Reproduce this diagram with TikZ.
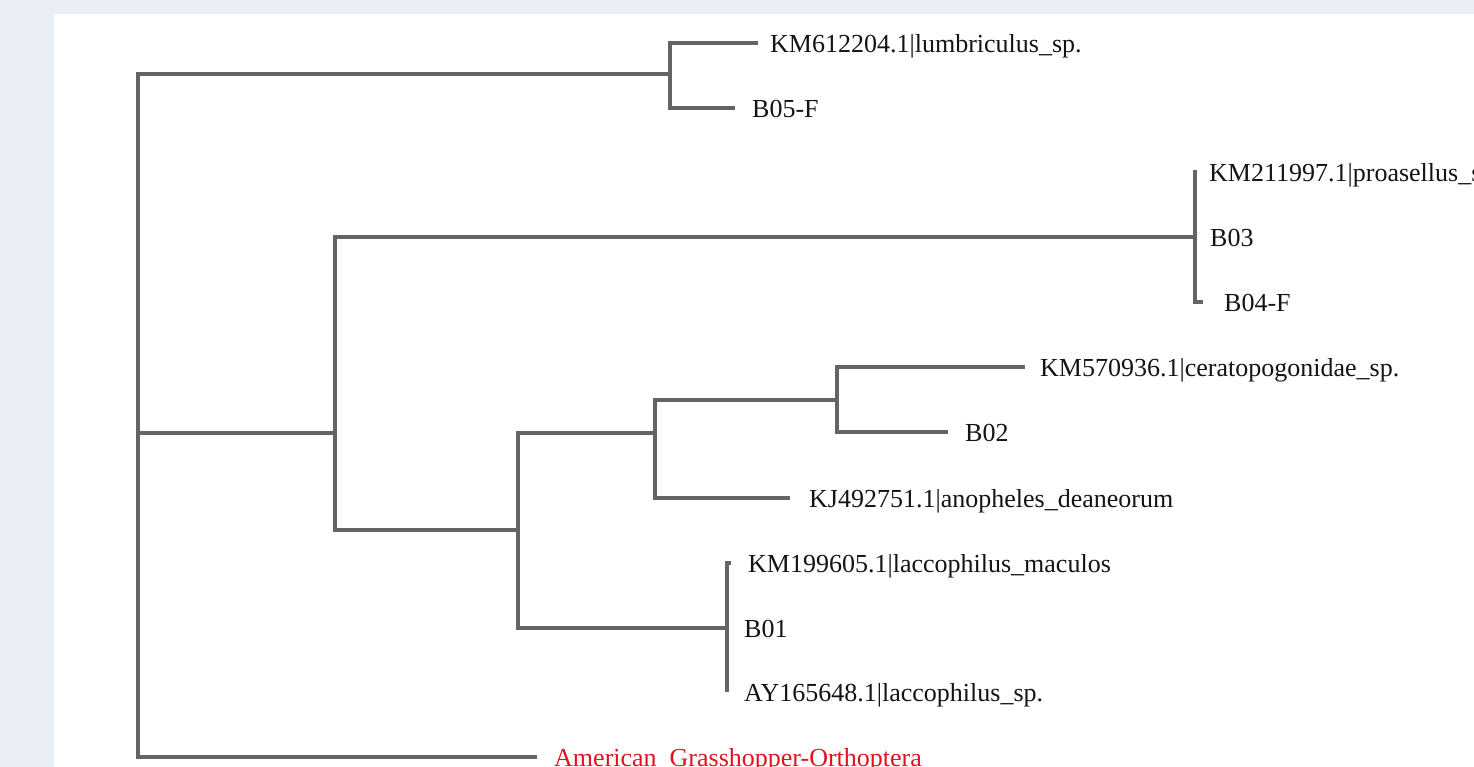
\documentclass[tikz,border=0pt]{standalone}
\usepackage{fontspec}
\setmainfont{Liberation Serif}
\usetikzlibrary{positioning}
\definecolor{pagebg}{HTML}{EBEEF6}
\definecolor{branchgray}{HTML}{646464}
\definecolor{outred}{HTML}{E0141E}
\tikzset{
  branch/.style={draw=branchgray,line width=4pt},
  leaf/.style={inner sep=0pt,text height=23pt,text depth=4pt,text=black!92,
    font=\fontsize{26}{26}\selectfont},
  outgroup/.style={leaf,text=outred}
}
\begin{document}
\begin{tikzpicture}[x=1pt,y=-1pt]
        \fill[pagebg] (0,0) rectangle (1474,767);
        \fill[white] (54,14) rectangle (1474,767);
        \clip (0,0) rectangle (1474,767);
        \coordinate (n0) at (138,433);
        \coordinate (n1) at (670,74);
        \coordinate (n2) at (335,433);
        \coordinate (n3) at (1195,237);
        \coordinate (n4) at (518,530);
        \coordinate (n5) at (655,433);
        \coordinate (n6) at (837,400);
        \coordinate (n7) at (727,628);
        \coordinate (t1) at (758,43);
        \coordinate (t2) at (735,108);
        \coordinate (t3) at (1197,172);
        \coordinate (t4) at (1195,237);
        \coordinate (t5) at (1203,302);
        \coordinate (t6) at (1025,367);
        \coordinate (t7) at (948,432);
        \coordinate (t8) at (790,498);
        \coordinate (t9) at (731,563);
        \coordinate (t10) at (727,628);
        \coordinate (t11) at (727,692);
        \coordinate (t12) at (537,757);
        \node[leaf,right=12pt of t1] (l1) {KM612204.1|lumbriculus\_sp.};
        \node[leaf,right=17pt of t2] (l2) {B05-F};
        \node[leaf,right=12pt of t3] (l3) {KM211997.1|proasellus\_sp.};
        \node[leaf,right=15pt of t4] (l4) {B03};
        \node[leaf,right=21pt of t5] (l5) {B04-F};
        \node[leaf,right=15pt of t6] (l6) {KM570936.1|ceratopogonidae\_sp.};
        \node[leaf,right=17pt of t7] (l7) {B02};
        \node[leaf,right=19pt of t8] (l8) {KJ492751.1|anopheles\_deaneorum};
        \node[leaf,right=17pt of t9] (l9) {KM199605.1|laccophilus\_maculos};
        \node[leaf,right=17pt of t10] (l10) {B01};
        \node[leaf,right=17pt of t11] (l11) {AY165648.1|laccophilus\_sp.};
        \node[outgroup,right=17pt of t12] (l12) {American\_Grasshopper-Orthoptera};
        \draw[branch] (n0) |- (n1);
        \draw[branch] (n0) -- (n2);
        \draw[branch] (n0) |- (t12);
        \draw[branch] (n1) |- (t1);
        \draw[branch] (n1) |- (t2);
        \draw[branch] (n2) |- (n3);
        \draw[branch] (n2) |- (n4);
        \draw[branch] (n3) |- (t3);
        \draw[branch] (n3) |- (t5);
        \draw[branch] (n4) |- (n5);
        \draw[branch] (n4) |- (n7);
        \draw[branch] (n5) |- (n6);
        \draw[branch] (n5) |- (t8);
        \draw[branch] (n6) |- (t6);
        \draw[branch] (n6) |- (t7);
        \draw[branch] (n7) |- (t9);
        \draw[branch] (n7) |- (t11);
\end{tikzpicture}
\end{document}
